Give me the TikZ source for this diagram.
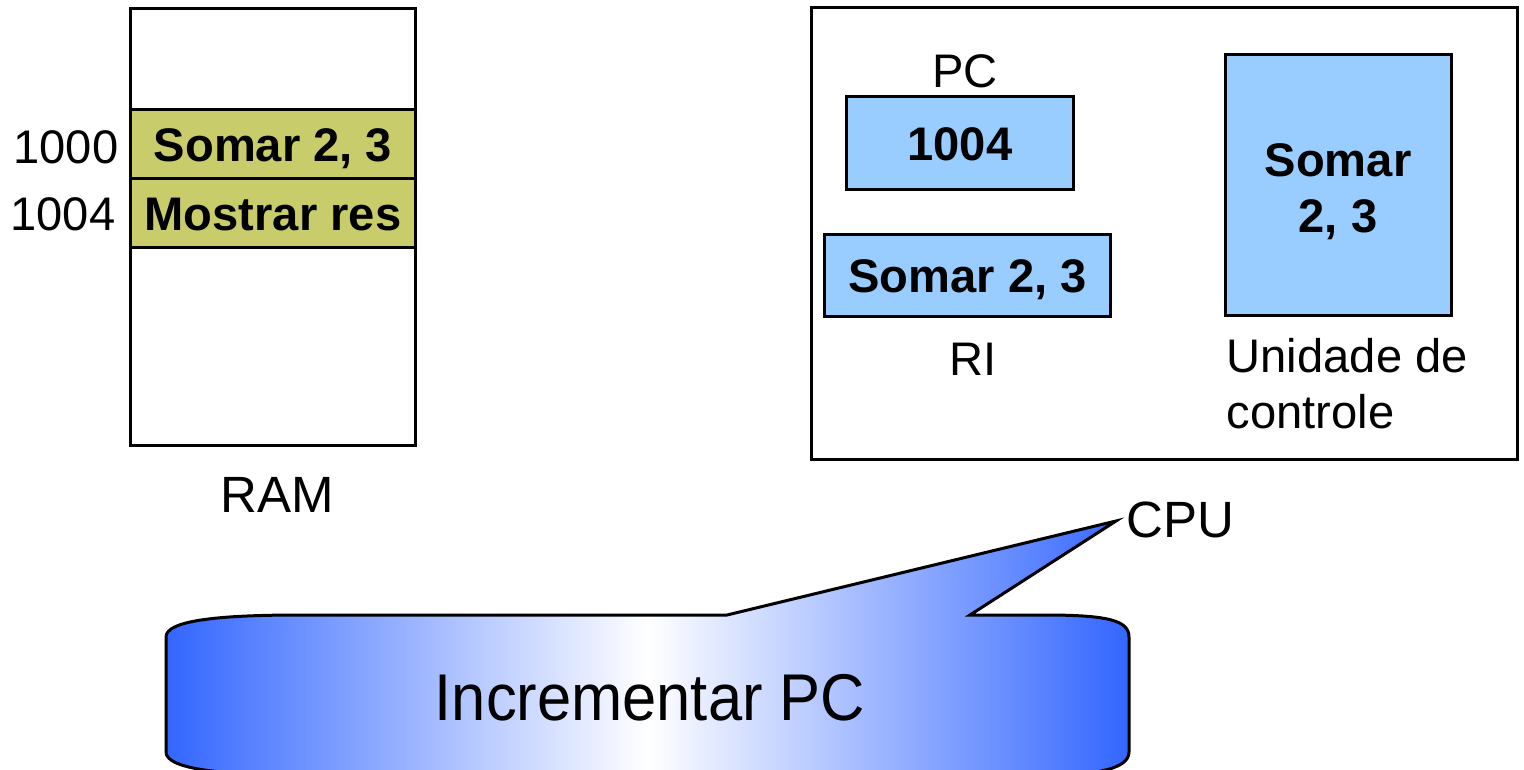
\documentclass[tikz,border=0pt]{standalone}
\usepackage{fontspec}
\setmainfont{Liberation Sans}
\newfontfamily\narrowfont[FakeStretch=0.93]{Liberation Sans}
\definecolor{regblue}{HTML}{99CCFF}
\definecolor{ramolive}{HTML}{C8CC6A}
\definecolor{cblue}{HTML}{3366FF}
\begin{document}
\begin{tikzpicture}[x=0.01cm,y=-0.01cm,
  box/.style={draw, line width=0.03cm, inner sep=0pt, outer sep=0pt},
  cell/.style={box, fill=ramolive, minimum width=2.84cm, font=\fontsize{13.4}{16}\selectfont\bfseries, text height=0.34cm, text depth=0cm},
  reg/.style={box, fill=regblue, font=\fontsize{13.4}{16}\selectfont\bfseries, text height=0.34cm, text depth=0cm},
  lbl/.style={font=\fontsize{13.4}{16}\selectfont, inner sep=0pt, anchor=base},
  biglbl/.style={font=\fontsize{14.5}{17}\selectfont, inner sep=0pt, anchor=base},
  boldlbl/.style={font=\fontsize{13.4}{16}\selectfont\bfseries, inner sep=0pt, anchor=base}
]
\useasboundingbox (0,0) rectangle (1524,770);

% RAM
\node[box, minimum width=2.84cm, minimum height=4.36cm] (ram) at (273,227) {};
\node[cell, minimum height=0.69cm] (c1000) at (273,144.5) {Somar 2, 3};
\node[cell, minimum height=0.68cm] (c1004) at (273,213) {Mostrar res};
\node[lbl] (a1000) at (66,163) {1000};
\node[lbl] (a1004) at (63,231) {1004};
\node[biglbl] (ramlbl) at (277,512) {RAM};

% CPU
\node[box, minimum width=7.05cm, minimum height=4.51cm] (cpu) at (1164.5,233.5) {};
\node[lbl] (pclbl) at (965,88) {PC};
\node[reg, minimum width=2.26cm, minimum height=0.92cm] (pc) at (960,143) {1004};
\node[reg, minimum width=2.85cm, minimum height=0.81cm] (ri) at (967.5,275.5) {Somar 2, 3};
\node[lbl] (rilbl) at (973,375) {RI};
\node[box, fill=regblue, minimum width=2.25cm, minimum height=2.60cm] (cu) at (1338.5,185) {};
\node[boldlbl] (cut1) at (1338,177) {Somar};
\node[boldlbl] (cut2) at (1338,233) {2, 3};
\node[lbl, anchor=base west] (culbl1) at (1226,372) {Unidade de};
\node[lbl, anchor=base west] (culbl2) at (1226,428) {controle};
\node[biglbl, anchor=base west] (cpulbl) at (1126,537) {CPU};

% Callout
\coordinate (tip) at (1116,521);
\path[draw, line width=0.03cm, line join=miter, left color=cblue, right color=cblue, middle color=white]
  (166,752) -- (166,637) .. controls (166,621) and (215,615) .. (300,615)
  -- (727,615) -- (tip) -- (970,615) -- (1045,615)
  .. controls (1110,615) and (1129,621) .. (1129,637)
  -- (1129,752) .. controls (1129,768) and (1100,775) .. (1045,775)
  -- (300,775) .. controls (215,775) and (166,768) .. (166,752) -- cycle;
\node[font=\narrowfont\fontsize{18.8}{22}\selectfont, inner sep=0pt, anchor=base] (incr) at (650,720) {Incrementar PC};
\end{tikzpicture}
\end{document}
